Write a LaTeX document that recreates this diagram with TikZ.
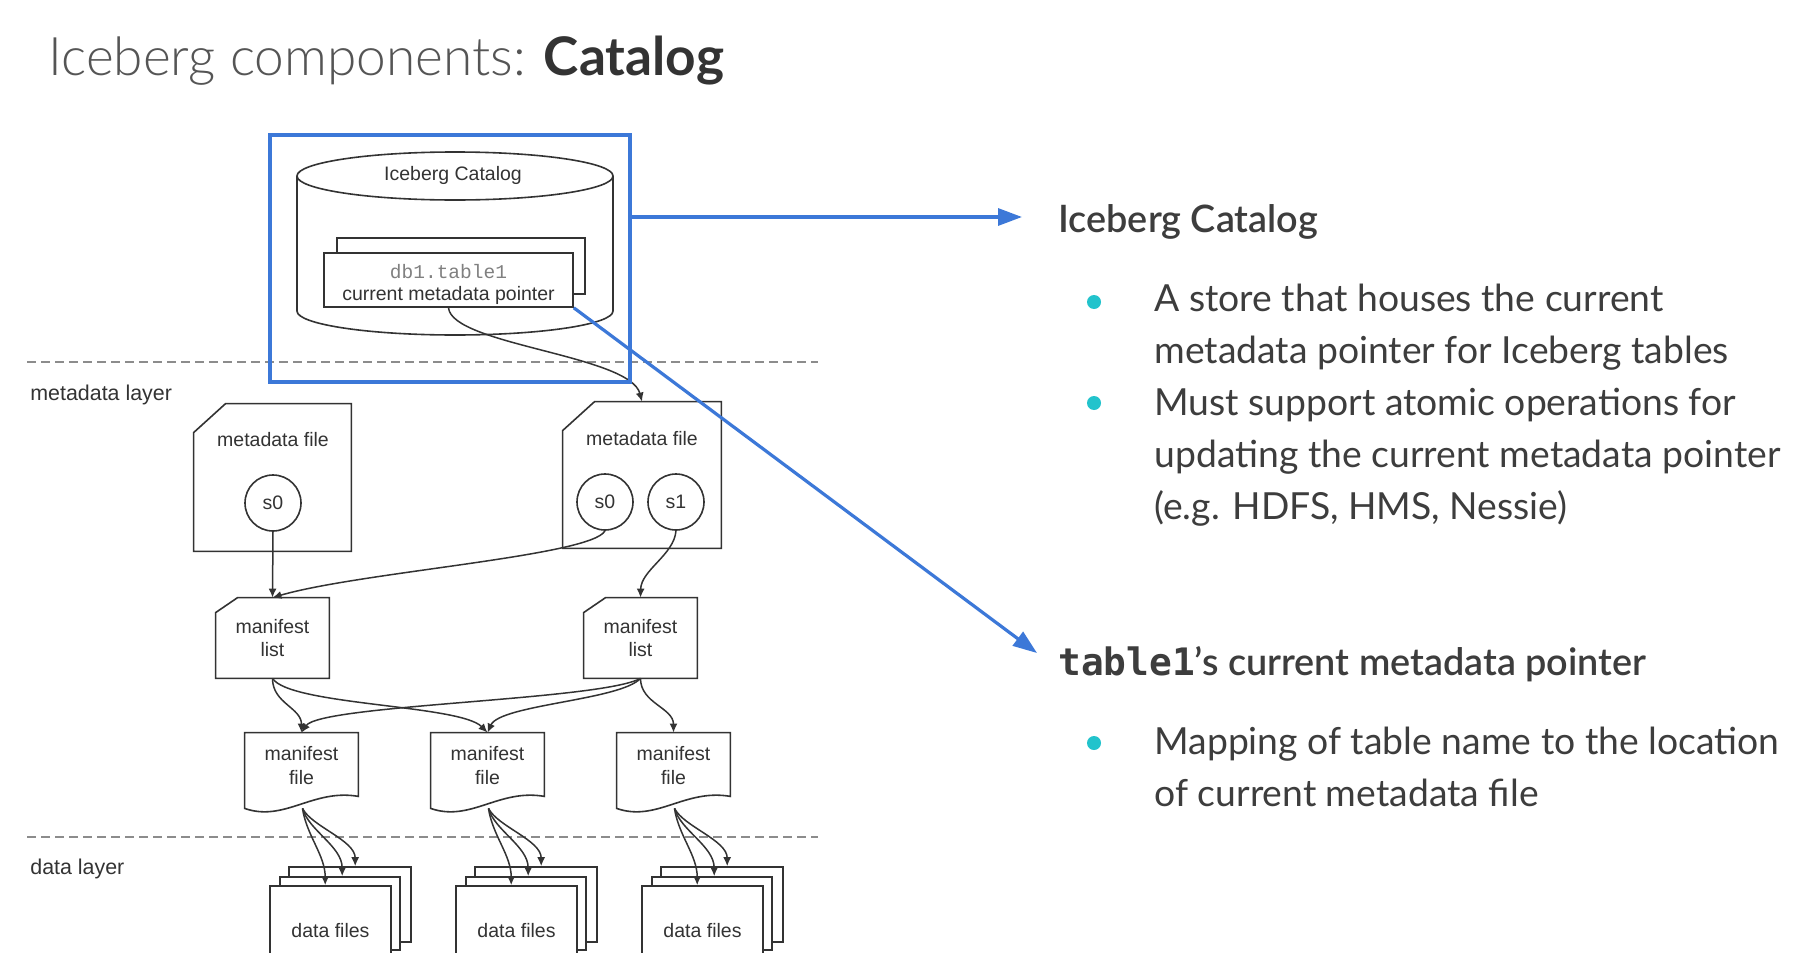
\documentclass[tikz,border=0pt]{standalone}
\usepackage{fontspec}
\setmainfont{Lato}
\IfFontExistsTF{Lato Light}{\newfontfamily\latolight{Lato Light}}{\newfontfamily\latolight{Lato}}
\IfFontExistsTF{Lato Semibold}{\newfontfamily\latosemi{Lato Semibold}}{\newfontfamily\latosemi{Lato}}
\newfontfamily\dia{Liberation Sans}
\newfontfamily\diamono{Liberation Mono}
\newfontfamily\codebold{DejaVu Sans Mono}
\usetikzlibrary{arrows.meta,calc}
\definecolor{blueline}{HTML}{3C78D8}
\definecolor{bulletteal}{HTML}{22C3CC}
\definecolor{ink}{HTML}{333333}
\definecolor{txt}{HTML}{3D3D3D}
\definecolor{dashgray}{HTML}{8C8C8C}
\definecolor{ttl}{HTML}{555555}
\definecolor{monogray}{HTML}{808080}
\begin{document}
\begin{tikzpicture}[x=0.5pt,y=-0.5pt,
  ln/.style={draw=ink, line width=0.8pt},
  arr/.style={draw=ink, line width=0.75pt, -{Latex[length=4.5pt,width=4pt]}},
  lbl/.style={font=\dia\fontsize{9.75pt}{11.5pt}\selectfont, text=ink, align=center, inner sep=0pt},
  layer/.style={font=\dia\fontsize{10.7pt}{12pt}\selectfont, text=ink, anchor=west, inner sep=0pt},
  holder/.style={draw=none, inner sep=0pt},
  circ/.style={circle, draw=ink, line width=0.8pt, minimum size=28pt, inner sep=0pt, font=\dia\fontsize{9.75pt}{11.5pt}\selectfont, text=ink},
  sepline/.style={draw=dashgray, line width=0.9pt, dash pattern=on 4.5pt off 2.5pt},
  bluebox/.style={draw=blueline, line width=1.6pt},
  barr/.style={draw=blueline, line width=1.6pt, -{Triangle[length=12pt,width=8.5pt]}},
  head/.style={font=\latosemi\fontsize{18.9pt}{23pt}\selectfont, text=txt, anchor=base west, inner sep=0pt},
  body/.style={font=\fontsize{18.65pt}{26pt}\selectfont, text=txt, anchor=base west, inner sep=0pt},
  dot/.style={circle, fill=bulletteal, minimum size=7pt, inner sep=0pt}
]
\useasboundingbox (0,0) rectangle (1800,953);
\fill[white] (0,0) rectangle (1800,953);
\clip (0,0) rectangle (1800,953);

% title
\node[anchor=base west, inner sep=0pt, font=\fontsize{26.6pt}{32pt}\selectfont] (title) at (48,75)
  {{\latolight\color{ttl}Iceberg components:} {\bfseries\color{ink}Catalog}};

% layer separators
\draw[sepline] (27,362) -- (818,362);
\draw[sepline] (27,837) -- (818,837);
\node[layer] (mdlayer) at (30,395) {metadata layer};
\node[layer] (dlayer) at (30,869) {data layer};

% catalog cylinder
\draw[ln, fill=white] (297,176) -- (297,311) arc[start angle=180, end angle=0, x radius=158, y radius=24] -- (613,176);
\draw[ln, fill=white] (455,176) ellipse [x radius=158, y radius=24];
\node[lbl] (cattitle) at (453,175) {Iceberg Catalog};
\node[ln, fill=white, minimum width=124pt, minimum height=28pt, inner sep=0pt] (ptrback) at (461,266) {};
\node[ln, fill=white, minimum width=124.5pt, minimum height=27pt, inner sep=0pt] (ptr) at (448.5,280) {};
\node[lbl, font=\dia\fontsize{9.75pt}{11pt}\selectfont] (ptrt) at (448.5,284)
  {{\diamono\color{monogray}db1.table1}\\current metadata pointer};

% metadata files
\node[holder, minimum width=78.5pt, minimum height=73.5pt] (md1) at (272.5,477.5) {};
\node[holder, minimum width=79pt, minimum height=73pt] (md2) at (642,475) {};
\foreach \n in {md1,md2}{
  \draw[ln] (\n.north east) -- (\n.south east) -- (\n.south west) -- ($(\n.north west)+(0,29)$) -- ($(\n.north west)+(32,0)$) -- cycle;
}
\node[lbl] (md1t) at (273,440) {metadata file};
\node[lbl] (md2t) at (642,439) {metadata file};
\node[circ] (s01) at (273,503) {s0};
\node[circ] (s02) at (605,502) {s0};
\node[circ] (s12) at (676,502) {s1};

% manifest lists
\node[holder, lbl, minimum width=56.5pt, minimum height=40pt] (ml1) at (272.5,638) {manifest\\list};
\node[holder, lbl, minimum width=56.5pt, minimum height=40pt] (ml2) at (640.5,638) {manifest\\list};
\foreach \n in {ml1,ml2}{
  \draw[ln] (\n.north east) -- (\n.south east) -- (\n.south west) -- ($(\n.north west)+(0,15)$) -- ($(\n.north west)+(22,0)$) -- cycle;
}

% manifest files
\foreach \n/\x in {mf1/301.5,mf2/487.5,mf3/673.5}{
  \node[holder, minimum width=56.5pt, minimum height=37.5pt] (\n) at (\x,770.5) {};
  \draw[ln] (\n.north west) -- (\n.north east) -- ($(\n.south east)+(0,-12)$)
    .. controls ($(\n.south west)!0.6!(\n.south east)+(0,-20)$) and ($(\n.south west)!0.35!(\n.south east)+(0,14)$) .. (\n.south west) -- cycle;
  \node[lbl, font=\dia\fontsize{9.75pt}{12pt}\selectfont] (\n t) at (\x,766) {manifest\\file};
}

% data file stacks
\foreach \k/\dx in {1/0,2/186,3/372}{
  \node[ln, fill=white, minimum width=61pt, minimum height=37.5pt, inner sep=0pt] (df\k b) at (350+\dx,904.5) {};
  \node[ln, fill=white, minimum width=60pt, minimum height=36.5pt, inner sep=0pt] (df\k m) at (340+\dx,913.5) {};
  \node[ln, fill=white, minimum width=60.5pt, minimum height=44.5pt, inner sep=0pt,
        font=\dia\fontsize{9.75pt}{11.5pt}\selectfont, text=ink] (df\k f) at (330.5+\dx,930.5) {data files};
}
\foreach \k in {1,2,3}{
  \draw[arr] ($(mf\k.south)+(1,0)$) .. controls +(4,27) and +(0,-30) .. ($(df\k f.north west)+(56,0)$);
  \draw[arr] ($(mf\k.south)+(1,0)$) .. controls +(6,22) and +(0,-30) .. ($(df\k m.north west)+(63,0)$);
  \draw[arr] ($(mf\k.south)+(1,0)$) .. controls +(9,18) and +(0,-26) .. ($(df\k b.north west)+(67,0)$);
}

% connectors
\draw[arr] (ptr.south) .. controls (452,345) and (630,355) .. (md2.north);
\draw[arr] (s01.south) -- (ml1.north);
\draw[arr] (s02.south) .. controls (592,556) and (360,572) .. (ml1.north);
\draw[arr] (s12.south) .. controls (674,555) and (641,570) .. (ml2.north);
\draw[arr] (ml1.south) .. controls +(0,25) and +(0,-25) .. (mf1.north);
\draw[arr] (ml1.south) .. controls +(17.5,27) and +(-27.5,-28) .. (mf2.north);
\draw[arr] (ml2.south) .. controls +(-40.5,22) and +(18.5,-28) .. (mf1.north);
\draw[arr] (ml2.south) .. controls +(-20.5,22) and +(12.5,-28) .. (mf2.north);
\draw[arr] (ml2.south) .. controls +(0,25) and +(0,-25) .. (mf3.north);

% blue highlight
\node[bluebox, minimum width=180pt, minimum height=123.5pt, inner sep=0pt] (catbox) at (450,258.5) {};
\coordinate (catend) at (1022,217);
\coordinate (ptrend) at (1037,653);
\draw[barr] (catbox.east |- catend) -- (catend);
\draw[barr] (ptr.south east) -- (ptrend);

% right-hand text
\node[head] (hcat) at (1058,232) {Iceberg Catalog};
\node[dot] (d1) at (1094,302) {};
\node[dot] (d2) at (1094,403) {};
\node[body] (b1a) at (1154,311) {A store that houses the current};
\node[body] (b1b) at (1154,363) {metadata pointer for Iceberg tables};
\node[body] (b2a) at (1154,415) {Must support atomic operations for};
\node[body] (b2b) at (1154,467) {updating the current metadata pointer};
\node[body] (b2c) at (1154,519) {(e.g. HDFS, HMS, Nessie)};
\node[head] (hptr) at (1058,675) {{\codebold\bfseries table1}’s current metadata pointer};
\node[dot] (d3) at (1094,743) {};
\node[body] (b3a) at (1154,754) {Mapping of table name to the location};
\node[body] (b3b) at (1154,806) {of current metadata file};
\end{tikzpicture}
\end{document}
